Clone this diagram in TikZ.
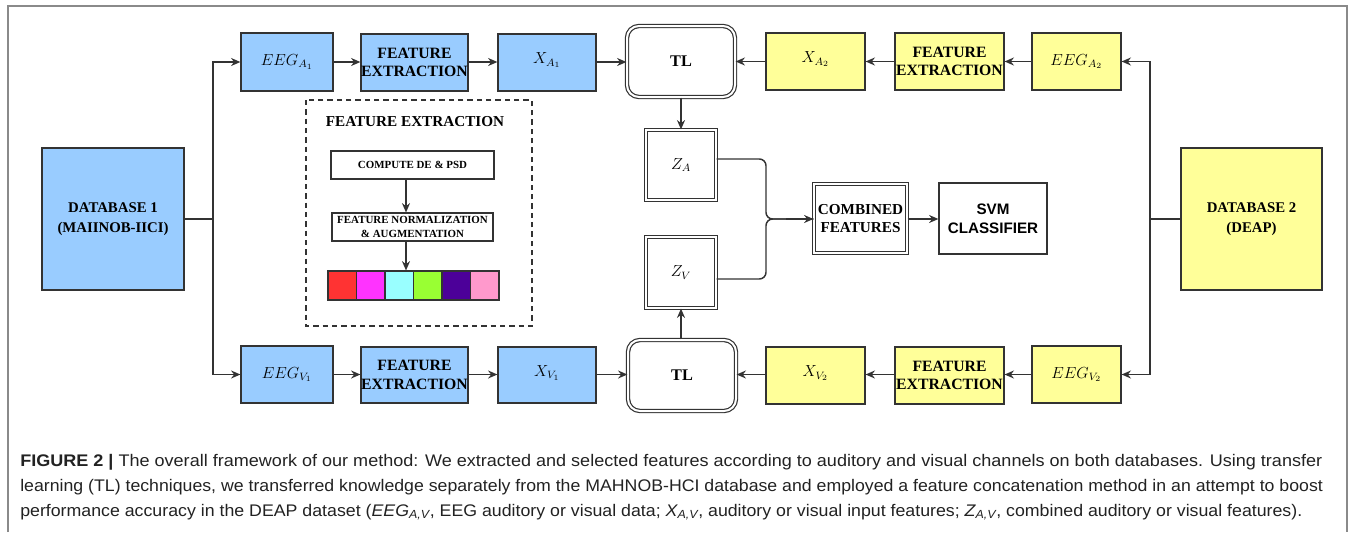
\documentclass[tikz,border=0pt]{standalone}
\usepackage{fontspec}
\setmainfont{Liberation Serif}
\newfontfamily\capfont{Liberation Sans}
\newfontfamily\svmfont{Liberation Sans}
\usepackage{graphicx}
\usetikzlibrary{arrows.meta,calc}

\definecolor{bluefill}{HTML}{99CCFF}
\definecolor{yellowfill}{HTML}{FFFF99}
\definecolor{edge}{HTML}{333333}
\definecolor{framegray}{HTML}{8A8A8A}
\definecolor{captext}{HTML}{222222}
\definecolor{cRed}{HTML}{FF3333}
\definecolor{cMagenta}{HTML}{FF33FF}
\definecolor{cCyan}{HTML}{99FFFF}
\definecolor{cLime}{HTML}{99FF33}
\definecolor{cIndigo}{HTML}{4C0099}
\definecolor{cPink}{HTML}{FF99CC}

% place a node by its corner coordinates: style, name, x1, y1, x2, y2, text
\newcommand\placebox[7]{%
  \node[#1, minimum width={(#5-#3)*0.75pt}, minimum height={(#6-#4)*0.75pt}]
    (#2) at ({(#3+#5)/2},{(#4+#6)/2}) {#7};}

\begin{document}
\begin{tikzpicture}[x=0.75pt,y=-0.75pt,
  box/.style={draw=edge, line width=0.9pt, inner sep=0pt, align=center},
  bluebox/.style={box, fill=bluefill},
  yellowbox/.style={box, fill=yellowfill},
  fetext/.style={font=\fontsize{11.8}{13.7}\selectfont\bfseries},
  mathtext/.style={font=\fontsize{11.6}{13}\selectfont},
  tlbox/.style={draw=edge, line width=0.9pt, double=white, double distance=1.5pt,
    rounded corners=9pt, inner sep=0pt, align=center,
    font=\fontsize{12.2}{14}\selectfont\bfseries},
  dblbox/.style={draw=edge, line width=0.85pt, double=white, double distance=1.3pt,
    inner sep=0pt, align=center},
  smallbox/.style={draw=edge, line width=0.8pt, inner sep=0pt, align=center,
    font=\fontsize{8.2}{10.5}\selectfont\bfseries},
  cell/.style={draw=edge, line width=0.8pt, inner sep=0pt},
  wire/.style={draw=edge, line width=1.1pt},
  conn/.style={wire, -{Stealth[length=7pt,width=6pt]}},
  capt/.style={inner sep=0pt, anchor=base west, text=captext,
    font=\capfont\fontsize{12.6}{15}\selectfont},
]
\useasboundingbox (0,0) rectangle (1360,532);

% outer frame
\draw[framegray, line width=1.1pt] (8,532) -- (8,6) -- (1347,6) -- (1347,532);

% databases
\placebox{bluebox, font=\fontsize{11.1}{15}\selectfont\bfseries}{DB1}{42}{148}{184}{290}{DATABASE 1\\(MAIINOB-IICI)}
\placebox{yellowbox, font=\fontsize{11.1}{15}\selectfont\bfseries}{DB2}{1181}{148}{1322}{290}{DATABASE 2\\(DEAP)}

% upper row (auditory)
\placebox{bluebox, mathtext}{EEGA1}{241}{33}{333}{91}{$EEG_{A_1}$}
\placebox{bluebox, fetext}{FEA1}{361}{34}{468}{91}{FEATURE\\EXTRACTION}
\placebox{bluebox, mathtext}{XA1}{498}{34}{596}{91}{\raisebox{6pt}{$X_{A_1}$}}
\placebox{tlbox}{TL1}{627}{26}{735}{97}{TL}
\placebox{yellowbox, mathtext}{XA2}{766}{33}{865}{90}{\raisebox{6pt}{$X_{A_2}$}}
\placebox{yellowbox, fetext}{FEA2}{895}{33}{1004}{90}{FEATURE\\EXTRACTION}
\placebox{yellowbox, mathtext}{EEGA2}{1032}{33}{1121}{90}{$EEG_{A_2}$}

% lower row (visual)
\placebox{bluebox, mathtext}{EEGV1}{241}{346}{333}{403}{$EEG_{V_1}$}
\placebox{bluebox, fetext}{FEV1}{361}{347}{468}{403}{FEATURE\\EXTRACTION}
\placebox{bluebox, mathtext}{XV1}{498}{347}{596}{403}{\raisebox{6pt}{$X_{V_1}$}}
\placebox{tlbox}{TL2}{628}{340}{736}{411}{TL}
\placebox{yellowbox, mathtext}{XV2}{766}{347}{865}{404}{\raisebox{6pt}{$X_{V_2}$}}
\placebox{yellowbox, fetext}{FEV2}{895}{347}{1004}{404}{FEATURE\\EXTRACTION}
\placebox{yellowbox, mathtext}{EEGV2}{1032}{346}{1121}{403}{$EEG_{V_2}$}

% transferred representations and fusion
\placebox{dblbox, mathtext}{ZA}{646}{130}{716}{200}{$Z_A$}
\placebox{dblbox, mathtext}{ZV}{646}{237}{716}{308}{$Z_V$}
\placebox{dblbox, font=\fontsize{11.4}{14}\selectfont\bfseries}{COMB}{814}{184}{907}{253}{COMBINED\\FEATURES}
\placebox{box, font=\svmfont\fontsize{11.4}{14}\selectfont\bfseries}{SVM}{939}{183}{1047}{254}{SVM\\CLASSIFIER}

% feature extraction detail
\draw[edge, line width=1pt, dash pattern=on 4pt off 3pt] (306,100) rectangle (532,326);
\node[font=\fontsize{11.4}{13}\selectfont\bfseries, inner sep=0pt] (FETITLE) at (415,122) {FEATURE EXTRACTION};
\placebox{smallbox}{DEPSD}{331}{151}{494}{179}{COMPUTE DE \& PSD}
\placebox{smallbox}{NORM}{332}{213}{493}{241}{FEATURE NORMALIZATION\\\& AUGMENTATION}
\placebox{cell, fill=cRed}{C1}{328}{271}{356.5}{300}{}
\placebox{cell, fill=cMagenta}{C2}{356.5}{271}{385}{300}{}
\placebox{cell, fill=cCyan}{C3}{385}{271}{413.5}{300}{}
\placebox{cell, fill=cLime}{C4}{413.5}{271}{442}{300}{}
\placebox{cell, fill=cIndigo}{C5}{442}{271}{470.5}{300}{}
\placebox{cell, fill=cPink}{C6}{470.5}{271}{499}{300}{}
\coordinate (fx) at (406,0);
\draw[conn] (DEPSD.south -| fx) -- (NORM.north -| fx);
\draw[conn] (NORM.south -| fx) -- (C1.north -| fx);

% branching from the databases
\coordinate (lb) at (213,219);
\coordinate (rb) at (1150,219);
\draw[wire] (DB1.east) -- (lb);
\draw[conn] (lb) |- (EEGA1.west);
\draw[conn] (lb) |- (EEGV1.west);
\draw[wire] (DB2.west) -- (rb);
\draw[conn] (rb) |- (EEGA2.east);
\draw[conn] (rb) |- (EEGV2.east);

% row connectors
\draw[conn] (EEGA1.east) -- (FEA1.west |- EEGA1.east);
\draw[conn] (FEA1.east |- EEGA1.east) -- (XA1.west |- EEGA1.east);
\draw[conn] (XA1.east |- EEGA1.east) -- (TL1.west |- EEGA1.east);
\draw[conn] (EEGA2.west) -- (FEA2.east |- EEGA2.west);
\draw[conn] (FEA2.west |- EEGA2.west) -- (XA2.east |- EEGA2.west);
\draw[conn] (XA2.west |- EEGA2.west) -- (TL1.east |- EEGA2.west);

\draw[conn] (EEGV1.east) -- (FEV1.west |- EEGV1.east);
\draw[conn] (FEV1.east |- EEGV1.east) -- (XV1.west |- EEGV1.east);
\draw[conn] (XV1.east |- EEGV1.east) -- (TL2.west |- EEGV1.east);
\draw[conn] (EEGV2.west) -- (FEV2.east |- EEGV2.west);
\draw[conn] (FEV2.west |- EEGV2.west) -- (XV2.east |- EEGV2.west);
\draw[conn] (XV2.west |- EEGV2.west) -- (TL2.east |- EEGV2.west);

% transfer outputs
\draw[conn] (TL1.south -| ZA.north) -- (ZA.north);
\draw[conn] (TL2.north -| ZV.south) -- (ZV.south);

% merge into combined features
\coordinate (ja) at (766,159);
\coordinate (jv) at (766,279);
\coordinate (jm) at (766,219);
\draw[wire, rounded corners=5pt] (ja -| ZA.east) -- (ja) -- (jm) -- (COMB.west |- jm);
\draw[wire, rounded corners=5pt] (jv -| ZV.east) -- (jv) -- (jm) -- (COMB.west |- jm);
\draw[conn] ($(jm)+(20,0)$) -- (COMB.west |- jm);
\draw[conn] (COMB.east |- jm) -- (SVM.west |- jm);

% caption
\node[capt] (cap1) at (20,466) {\resizebox{976.5pt}{\height}{\textbf{FIGURE 2 |} The overall framework of our method: We extracted and selected features according to auditory and visual channels on both databases. Using transfer}};
\node[capt] (cap2) at (20,491) {\resizebox{977pt}{\height}{learning (TL) techniques, we transferred knowledge separately from the MAHNOB-HCI database and employed a feature concatenation method in an attempt to boost}};
\node[capt] (cap3) at (20,516) {\resizebox{961.5pt}{\height}{performance accuracy in the DEAP dataset ({\itshape EEG\textsubscript{A,V}}, EEG auditory or visual data; {\itshape X\textsubscript{A,V}}, auditory or visual input features; {\itshape Z\textsubscript{A,V}}, combined auditory or visual features).}};
\end{tikzpicture}
\end{document}
